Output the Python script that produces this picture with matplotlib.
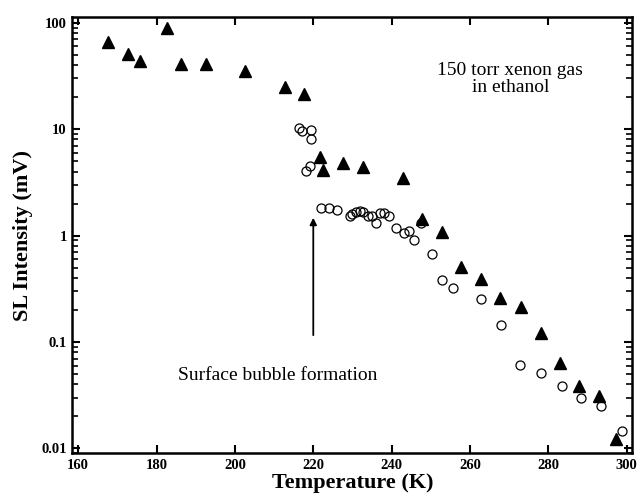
import matplotlib
matplotlib.use("Agg")
import matplotlib.pyplot as plt
from matplotlib.ticker import LogLocator, FixedLocator, NullFormatter

plt.rcParams['font.family'] = ['Liberation Serif', 'DejaVu Serif']

# filled triangles
tri_temp = [167.7, 172.8, 175.8, 182.7, 186.2, 192.6, 202.7, 212.8, 217.7,
            221.7, 222.5, 227.7, 232.8, 242.8, 247.7, 252.8, 257.7, 262.8,
            267.7, 272.9, 278.0, 283.0, 287.8, 292.9, 297.3]
tri_int = [65.4, 50.5, 43.7, 89.8, 40.6, 40.6, 35.4, 25.0, 21.2,
           5.50, 4.13, 4.83, 4.43, 3.45, 1.445, 1.086, 0.503, 0.388,
           0.259, 0.214, 0.122, 0.0638, 0.0383, 0.0310, 0.01215]

# open circles
circ_temp = [216.4, 217.0, 219.4, 219.3, 218.1, 219.2, 222.0, 224.1, 226.0,
             229.3, 230.0, 230.9, 232.0, 232.6, 234.0, 235.0, 236.1, 237.0,
             238.0, 239.2, 241.0, 243.2, 244.4, 245.7, 247.4, 250.4, 252.9,
             255.7, 262.8, 267.9, 272.8, 278.0, 283.4, 288.3, 293.4, 298.7]
circ_int = [10.2, 9.54, 9.81, 8.11, 4.04, 4.50, 1.80, 1.80, 1.725,
            1.535, 1.593, 1.674, 1.70, 1.664, 1.515, 1.515, 1.31, 1.627,
            1.645, 1.515, 1.18, 1.067, 1.11, 0.911, 1.31, 0.666, 0.382,
            0.323, 0.253, 0.1435, 0.0607, 0.0510, 0.0385, 0.0301, 0.0250, 0.01445]

x_ticks = [160, 180, 200, 220, 240, 260, 280, 300]
y_ticks = [0.01, 0.1, 1, 10, 100]
y_labels = ['0.01', '0.1', '1', '10', '100']

fig = plt.figure(figsize=(6.38, 4.95), dpi=100)
ax = fig.add_axes([0.1133, 0.0842, 0.991 - 0.1133, 0.9663 - 0.0842])

ax.plot(tri_temp, tri_int, linestyle='none', marker='^', markersize=8,
        color='black')
ax.plot(circ_temp, circ_int, linestyle='none', marker='o', markersize=6.5,
        markerfacecolor='none', markeredgecolor='black', markeredgewidth=0.9)

ax.set_yscale('log')
ax.set_xlim(158.5, 301.4)
ax.set_ylim(0.009, 114)

ax.xaxis.set_major_locator(FixedLocator(x_ticks))
ax.set_xticklabels([str(t) for t in x_ticks], fontsize=10.5, fontweight='bold')
ax.set_yticks(y_ticks)
ax.set_yticklabels(y_labels, fontsize=10.5, fontweight='bold')
ax.yaxis.set_minor_locator(LogLocator(base=10, subs=range(2, 10)))
ax.yaxis.set_minor_formatter(NullFormatter())

ax.tick_params(which='major', direction='in', length=6, width=1.5,
               top=True, right=True, pad=4)
ax.tick_params(which='minor', direction='in', length=4, width=1.2,
               top=True, right=True)
for s in ax.spines.values():
    s.set_linewidth(1.8)

ax.set_xlabel('Temperature (K)', fontsize=16, fontweight='bold', labelpad=1)
ax.set_ylabel('SL Intensity (mV)', fontsize=16, fontweight='bold', labelpad=6)

ax.text(270.3, 29.6, '150 torr xenon gas\nin ethanol', ha='center',
        va='center', fontsize=14, linespacing=1.0)
ax.text(211, 0.0489, 'Surface bubble formation', ha='center', va='center',
        fontsize=14)

ax.annotate('', xy=(220, 1.47), xytext=(220, 0.116),
            arrowprops=dict(arrowstyle='-|>', color='black', lw=1.3,
                            mutation_scale=10, shrinkA=0, shrinkB=0))

fig.savefig('out.png', dpi=100)
